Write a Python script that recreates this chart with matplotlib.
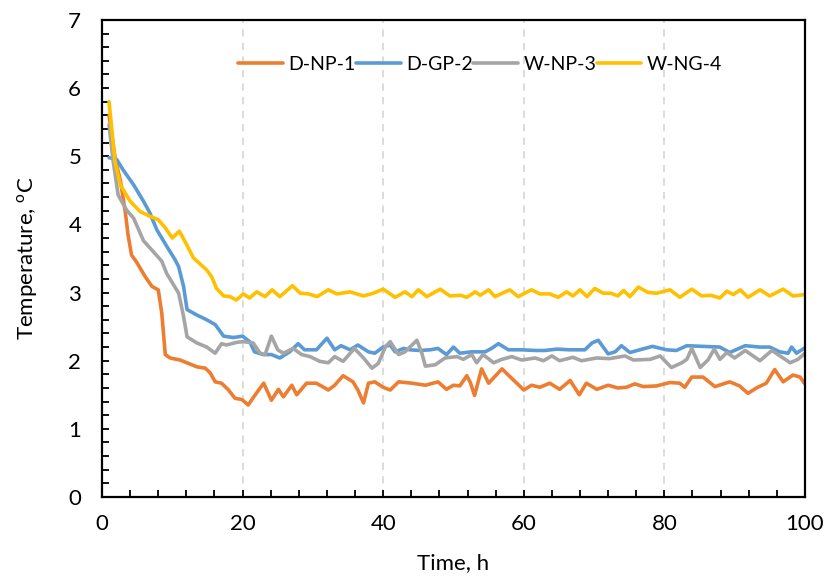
import matplotlib
matplotlib.use('Agg')
import matplotlib.pyplot as plt
from matplotlib.ticker import MultipleLocator

plt.rcParams['font.family'] = ['Lato', 'DejaVu Sans']

# Temperature logs, hours vs deg C
t_dnp1 = [1, 1.9, 2.6, 3.3, 3.7, 4.2, 4.9, 6.1, 7.1, 8.0, 8.5, 9.0, 9.7, 11.1, 12.3,
          13.5, 14.7, 15.4, 16.1, 17.0, 18.0, 18.9, 19.9, 20.8, 21.8, 23.0, 24.1,
          25.1, 25.8, 27.0, 27.7, 29.1, 30.5, 32.2, 33.1, 34.3, 35.7, 36.4, 37.2,
          37.9, 38.8, 40.0, 41.0, 42.2, 44.1, 46.0, 47.8, 49.0, 50.0, 50.9, 51.9,
          52.4, 53.0, 54.0, 55.0, 56.9, 58.3, 60.0, 61.1, 62.3, 63.7, 65.1, 66.6,
          67.9, 68.9, 70.4, 72.0, 73.4, 74.6, 75.8, 77.0, 78.9, 80.8, 82.2, 82.9,
          83.9, 85.5, 87.2, 89.3, 90.7, 91.9, 93.1, 94.5, 95.7, 96.9, 98.3, 99.3, 100]
v_dnp1 = [5.6, 4.95, 4.65, 4.19, 3.85, 3.55, 3.45, 3.24, 3.09, 3.04, 2.70, 2.09, 2.04,
          2.01, 1.96, 1.91, 1.89, 1.82, 1.69, 1.67, 1.57, 1.45, 1.43, 1.35, 1.50,
          1.67, 1.42, 1.58, 1.47, 1.64, 1.50, 1.67, 1.67, 1.57, 1.64, 1.78, 1.69,
          1.57, 1.38, 1.67, 1.69, 1.61, 1.57, 1.69, 1.67, 1.64, 1.69, 1.58, 1.64,
          1.63, 1.78, 1.68, 1.49, 1.88, 1.67, 1.88, 1.74, 1.57, 1.64, 1.61, 1.67,
          1.58, 1.71, 1.50, 1.67, 1.58, 1.64, 1.60, 1.61, 1.66, 1.62, 1.63, 1.68,
          1.67, 1.61, 1.76, 1.76, 1.62, 1.69, 1.63, 1.52, 1.60, 1.67, 1.87, 1.69,
          1.79, 1.76, 1.66]

t_dgp2 = [1, 2.1, 3, 4.5, 5.9, 6.8, 7.8, 9.2, 10.4, 10.9, 11.6, 12.1, 13.5, 14.9,
          16.1, 17.3, 18.7, 20.0, 21.0, 21.7, 22.9, 24.1, 25.3, 26.7, 27.9, 28.8,
          30.5, 32.0, 33.1, 34.0, 35.3, 36.4, 37.9, 38.8, 40.0, 41.0, 41.7, 42.9,
          43.8, 45.2, 46.7, 47.8, 49.0, 50.0, 50.9, 52.6, 54.5, 55.4, 56.4, 57.8,
          59.7, 61.6, 63.0, 64.7, 66.5, 68.7, 69.7, 70.6, 72.0, 73.0, 73.9, 75.1,
          76.5, 78.3, 80.3, 81.7, 83.2, 85.5, 87.9, 89.3, 91.5, 93.6, 95.0, 96.4,
          97.6, 98.1, 98.8, 100]
v_dgp2 = [4.98, 4.95, 4.80, 4.58, 4.34, 4.17, 3.92, 3.68, 3.48, 3.38, 3.09, 2.75,
          2.67, 2.60, 2.53, 2.36, 2.34, 2.36, 2.28, 2.13, 2.09, 2.09, 2.04, 2.13,
          2.25, 2.16, 2.16, 2.33, 2.16, 2.22, 2.16, 2.23, 2.13, 2.11, 2.20, 2.23,
          2.13, 2.18, 2.16, 2.15, 2.16, 2.18, 2.09, 2.20, 2.11, 2.13, 2.13, 2.18,
          2.25, 2.16, 2.16, 2.15, 2.15, 2.17, 2.16, 2.16, 2.26, 2.30, 2.10, 2.13,
          2.22, 2.12, 2.16, 2.21, 2.16, 2.15, 2.22, 2.21, 2.20, 2.12, 2.22, 2.20,
          2.20, 2.13, 2.11, 2.20, 2.11, 2.19]

t_wnp3 = [1, 1.6, 2.3, 3.5, 4.5, 5.9, 7.3, 8.5, 9.2, 10.9, 11.6, 12.1, 13.5, 14.9,
          16.1, 17.0, 17.7, 19.2, 20.1, 21.5, 22.5, 23.2, 24.1, 25.0, 25.8, 27.2,
          28.4, 29.6, 31.0, 32.2, 33.1, 34.3, 35.9, 37.2, 38.4, 39.3, 40.3, 41.0,
          42.2, 43.1, 44.8, 45.5, 46.0, 47.4, 48.8, 50.5, 51.4, 52.6, 53.3, 54.2,
          55.7, 56.9, 58.3, 59.7, 61.6, 62.8, 64.0, 65.1, 67.0, 68.2, 70.4, 72.2,
          74.4, 75.6, 78.0, 79.4, 81.0, 82.5, 83.2, 83.9, 85.1, 86.2, 87.1, 87.9,
          88.9, 90.0, 91.5, 93.6, 95.3, 97.9, 99.0, 100]
v_wnp3 = [5.46, 4.92, 4.43, 4.21, 4.09, 3.76, 3.60, 3.46, 3.28, 2.99, 2.65, 2.35,
          2.26, 2.20, 2.11, 2.25, 2.23, 2.27, 2.28, 2.26, 2.11, 2.09, 2.36, 2.16,
          2.11, 2.18, 2.09, 2.06, 1.99, 1.97, 2.06, 1.99, 2.18, 2.04, 1.89, 1.96,
          2.20, 2.28, 2.09, 2.13, 2.30, 2.11, 1.92, 1.94, 2.04, 2.06, 2.02, 2.09,
          1.97, 2.09, 1.97, 2.02, 2.06, 2.01, 2.04, 2.00, 2.07, 2.00, 2.05, 2.00,
          2.04, 2.03, 2.07, 2.01, 2.02, 2.07, 1.90, 1.97, 2.02, 2.18, 1.90, 2.01,
          2.17, 2.02, 2.12, 2.04, 2.15, 2.00, 2.15, 1.97, 2.02, 2.11]

t_wng4 = [1, 1.85, 2.6, 4.0, 5.4, 6.8, 8.0, 9.0, 10.0, 11.0, 11.8, 13.0, 14.9, 15.6,
          16.3, 17.3, 18.2, 19.1, 20.1, 21.0, 22.0, 23.2, 24.2, 25.3, 27.1, 28.2,
          29.4, 30.6, 32.2, 33.4, 35.3, 37.2, 38.6, 40.0, 41.7, 43.1, 44.1, 45.0,
          46.2, 48.1, 49.5, 51.0, 51.9, 53.1, 53.8, 55.0, 55.9, 58.0, 59.2, 61.1,
          62.3, 63.7, 64.9, 66.1, 67.0, 68.0, 69.0, 70.1, 71.3, 72.4, 73.4, 74.2,
          75.1, 76.3, 77.7, 78.9, 80.8, 82.2, 83.9, 85.3, 86.6, 87.9, 88.9, 89.8,
          90.8, 91.9, 93.6, 95.0, 96.9, 98.3, 100]
v_wng4 = [5.80, 4.92, 4.58, 4.34, 4.19, 4.12, 4.07, 3.95, 3.80, 3.90, 3.75, 3.51,
          3.33, 3.23, 3.06, 2.95, 2.94, 2.89, 2.98, 2.92, 3.01, 2.94, 3.04, 2.94,
          3.10, 2.99, 2.98, 2.94, 3.04, 2.98, 3.01, 2.95, 2.99, 3.05, 2.93, 3.01,
          2.94, 3.04, 2.94, 3.05, 2.95, 2.96, 2.93, 3.01, 2.96, 3.04, 2.94, 3.04,
          2.94, 3.04, 2.98, 2.98, 2.93, 3.01, 2.95, 3.04, 2.94, 3.06, 2.99, 2.99,
          2.95, 3.03, 2.94, 3.08, 3.00, 2.99, 3.04, 2.93, 3.05, 2.95, 2.96, 2.92,
          3.02, 2.97, 3.04, 2.93, 3.04, 2.95, 3.05, 2.95, 2.97]

labels = ['D-NP-1', 'D-GP-2', 'W-NP-3', 'W-NG-4']
colors = ['#ED7D31', '#5B9BD5', '#A5A5A5', '#FFC000']
series = [(t_dnp1, v_dnp1), (t_dgp2, v_dgp2), (t_wnp3, v_wnp3), (t_wng4, v_wng4)]

fig = plt.figure(figsize=(8.26, 5.79), dpi=100)
ax = fig.add_axes([0.1235, 0.1416, 0.851, 0.824])

for (t, v), lab, c in zip(series, labels, colors):
    ax.plot(t, v, color=c, lw=2.6, label=lab,
            solid_joinstyle='round', solid_capstyle='round')

ax.set_xlim(0, 100)
ax.set_ylim(0, 7)
ax.xaxis.set_major_locator(MultipleLocator(20))
ax.xaxis.set_minor_locator(MultipleLocator(4))
ax.yaxis.set_major_locator(MultipleLocator(1))
ax.yaxis.set_minor_locator(MultipleLocator(0.2))

ax.tick_params(which='both', direction='in', length=5, width=1.3,
               top=False, right=False, labelsize=16)
ax.tick_params(axis='y', pad=15)
ax.tick_params(axis='x', pad=12)

ax.grid(axis='x', which='major', color='#D9D9D9', linestyle=(0, (4, 3.5)), lw=1.3)
ax.set_axisbelow(True)
for s in ax.spines.values():
    s.set_linewidth(1.6)

ax.set_xlabel('Time, h', fontsize=16, labelpad=14)
ax.set_ylabel(r'Temperature, $^\mathregular{o}$C', fontsize=16, labelpad=20)

ax.legend(loc='center', bbox_to_anchor=(0.538, 0.906), ncol=4, frameon=False,
          fontsize=14, handlelength=2.3, handletextpad=0.3, columnspacing=0.0)

fig.savefig('out.png', dpi=100)
